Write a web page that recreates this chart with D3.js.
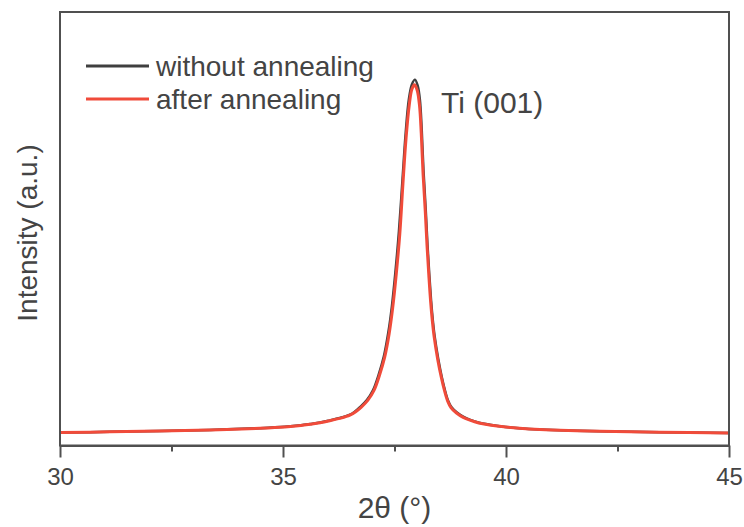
<!DOCTYPE html>
<html>
<head>
<meta charset="utf-8">
<script src="https://cdn.jsdelivr.net/npm/d3@7"></script>
<style>
  body { margin: 0; background: #fff; }
  text { font-family: "Liberation Sans", Arial, sans-serif; fill: #444; }
</style>
</head>
<body>
<div id="chart"></div>
<script>
"use strict";

/* DATA */

// 2theta values and intensities (a.u.)
let anglesWithout = [30.00, 31.12, 32.24, 33.36, 34.48, 35.04, 35.40, 35.61, 35.83, 36.05, 36.27, 36.50, 36.62, 36.73, 36.88, 37.02, 37.14, 37.26, 37.36, 37.44, 37.52, 37.60, 37.68, 37.75, 37.82, 37.89, 37.96, 38.02, 38.07, 38.11, 38.15, 38.20, 38.24, 38.28, 38.32, 38.36, 38.40, 38.48, 38.56, 38.63, 38.70, 38.78, 38.90, 39.05, 39.20, 39.40, 39.64, 39.90, 40.30, 40.76, 41.40, 42.11, 43.45, 45.00];
let intensityWithout = [3.0, 3.15, 3.35, 3.6, 4.0, 4.3, 4.65, 4.95, 5.3, 5.8, 6.35, 7.1, 7.9, 8.9, 10.5, 12.8, 16.2, 20.5, 26.0, 32.0, 40.0, 49.5, 61.5, 72.0, 79.7, 83.3, 84.4, 83.0, 79.7, 73.0, 63.5, 54.5, 46.3, 39.5, 33.5, 28.8, 25.2, 20.0, 15.8, 12.8, 10.4, 8.8, 7.6, 6.6, 5.9, 5.25, 4.8, 4.4, 4.0, 3.7, 3.45, 3.3, 3.05, 2.9];

let anglesAfter = [30.00, 31.12, 32.24, 33.36, 34.48, 35.04, 35.40, 35.61, 35.83, 36.05, 36.27, 36.50, 36.63, 36.75, 36.90, 37.04, 37.16, 37.28, 37.38, 37.46, 37.54, 37.62, 37.69, 37.76, 37.83, 37.89, 37.95, 38.01, 38.06, 38.10, 38.14, 38.19, 38.23, 38.27, 38.31, 38.35, 38.39, 38.47, 38.55, 38.62, 38.69, 38.77, 38.89, 39.04, 39.19, 39.39, 39.63, 39.90, 40.30, 40.76, 41.40, 42.11, 43.45, 45.00];
let intensityAfter = [3.0, 3.15, 3.35, 3.6, 3.98, 4.27, 4.6, 4.9, 5.25, 5.72, 6.25, 7.0, 7.8, 8.8, 10.4, 12.7, 16.1, 20.4, 25.8, 31.8, 39.6, 49.0, 60.5, 71.0, 78.5, 82.2, 83.2, 81.9, 78.5, 72.0, 62.8, 54.0, 46.0, 39.2, 33.2, 28.6, 25.0, 19.8, 15.7, 12.7, 10.3, 8.7, 7.5, 6.5, 5.85, 5.2, 4.75, 4.38, 3.98, 3.68, 3.45, 3.3, 3.05, 2.9];

let seriesNames = ["without annealing", "after annealing"];
let seriesColors = ["#3f3f3f", "#f04b3a"];
let majorTicks = [30, 35, 40, 45];
let minorTicks = [32.5, 37.5, 42.5];

/* SVG SETUP */

let svgWidth = 744;
let svgHeight = 527;
let plotLeft = 60, plotRight = 729, plotTop = 12, plotBottom = 445.5;

let svg = d3.select("#chart")
    .append("svg")
    .attr("width", svgWidth)
    .attr("height", svgHeight);

/* SCALES */

let xScale = d3.scaleLinear().domain([30, 45]).range([plotLeft, plotRight]);
let yScale = d3.scaleLinear().domain([0, 100]).range([plotBottom, plotTop]);

/* CURVES */

let line = d3.line()
    .x(d => xScale(d[0]))
    .y(d => yScale(d[1]))
    .curve(d3.curveCatmullRom.alpha(0.5));

let curves = [
    d3.zip(anglesWithout, intensityWithout),
    d3.zip(anglesAfter, intensityAfter)
];

curves.forEach(function (pts, i) {
    svg.append("path")
        .datum(pts)
        .attr("d", line)
        .attr("fill", "none")
        .attr("stroke", seriesColors[i])
        .attr("stroke-width", i === 0 ? 2.5 : 3)
        .attr("stroke-linejoin", "round");
});

/* FRAME + AXIS */

svg.append("rect")
    .attr("x", plotLeft)
    .attr("y", plotTop)
    .attr("width", plotRight - plotLeft)
    .attr("height", plotBottom - plotTop)
    .attr("fill", "none")
    .attr("stroke", "#505050")
    .attr("stroke-width", 2);

// major ticks with labels
let xAxis = svg.append("g")
    .attr("transform", "translate(0," + plotBottom + ")")
    .call(d3.axisBottom(xScale).tickValues(majorTicks).tickSize(12).tickSizeOuter(0).tickPadding(10));

// minor ticks, no labels
let xMinor = svg.append("g")
    .attr("transform", "translate(0," + plotBottom + ")")
    .call(d3.axisBottom(xScale).tickValues(minorTicks).tickSize(6).tickSizeOuter(0).tickFormat(""));

[xAxis, xMinor].forEach(function (g) {
    g.select(".domain").attr("stroke", "#505050").attr("stroke-width", 2);
    g.selectAll(".tick line").attr("stroke", "#505050").attr("stroke-width", 2);
});
xAxis.selectAll(".tick text")
    .attr("font-size", "24px")
    .attr("fill", "#444");

/* AXIS LABELS */

svg.append("text")
    .attr("x", (plotLeft + plotRight) / 2)
    .attr("y", 518)
    .attr("text-anchor", "middle")
    .attr("font-size", "30px")
    .text("2θ (°)");

svg.append("text")
    .attr("transform", "rotate(-90)")
    .attr("x", -233)
    .attr("y", 37)
    .attr("text-anchor", "middle")
    .attr("font-size", "28px")
    .text("Intensity (a.u.)");

/* PEAK LABEL */

svg.append("text")
    .attr("x", 441)
    .attr("y", 113)
    .attr("font-size", "30px")
    .text("Ti (001)");

/* LEGEND */

let legendY = [66, 99];
seriesNames.forEach(function (name, i) {
    svg.append("line")
        .attr("x1", 86)
        .attr("x2", 149)
        .attr("y1", legendY[i])
        .attr("y2", legendY[i])
        .attr("stroke", seriesColors[i])
        .attr("stroke-width", 3);

    svg.append("text")
        .attr("x", 156)
        .attr("y", legendY[i] + 10)
        .attr("font-size", "28px")
        .text(name);
});
</script>
</body>
</html>
